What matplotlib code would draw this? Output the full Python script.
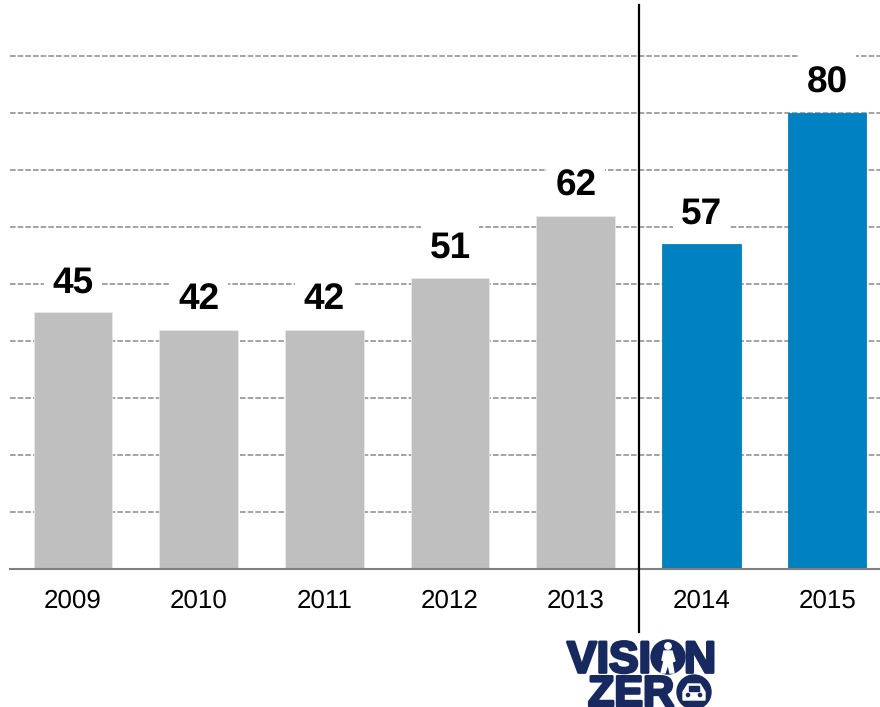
import matplotlib
matplotlib.use("Agg")
from matplotlib import pyplot as plt
from matplotlib import patheffects as pe
from matplotlib.patches import Circle, Polygon, Rectangle

plt.rcParams['font.family'] = ['Liberation Sans', 'DejaVu Sans']
plt.rcParams['text.hinting'] = 'no_hinting'
plt.rcParams['text.hinting_factor'] = 1

years = ['2009', '2010', '2011', '2012', '2013', '2014', '2015']
values = [45, 42, 42, 51, 62, 57, 80]
bar_colors = ['#bfbfbf'] * 5 + ['#0081c2'] * 2
bar_edges = ['#e8e8e8'] * 5 + ['#0081c2'] * 2
grid_levels = [10, 20, 30, 40, 50, 60, 70, 80, 90]

NAVY = '#17295e'

fig = plt.figure(figsize=(8.8, 7.07), dpi=100)
ax = fig.add_axes([10 / 880, 1 - 569 / 707, 870 / 880, 569 / 707])

# bars on top of the dashed guides
positions = range(len(years))
ax.bar(positions, values, width=0.625, color=bar_colors, edgecolor=bar_edges, linewidth=0.6, zorder=3)
ax.set_xlim(-0.5, 6.42)
ax.set_ylim(0, 99.8)

for level in grid_levels:
    ax.axhline(level, color='#8f8f8f', lw=1.15, linestyle=(0, (3.5, 1.3)), zorder=1)

# value labels sit on white blocks that knock the guides out
for x, v in zip(positions, values):
    ax.add_patch(Rectangle((x - 0.23, v + 0.5), 0.46, 10.3, facecolor='white', edgecolor='none', zorder=2))
    ax.annotate(str(v), (x, v), xytext=(0, 14.5), textcoords='offset points',
                ha='center', va='baseline', fontsize=26.5, fontweight='bold', color='black', zorder=4)

for side in ['top', 'left', 'right']:
    ax.spines[side].set_visible(False)
ax.spines['bottom'].set_color('#808080')
ax.spines['bottom'].set_linewidth(1.5)
ax.spines['bottom'].set_zorder(4)
ax.set_yticks([])
ax.set_xticks(list(positions))
ax.set_xticklabels(years, fontsize=19, color='black')
ax.tick_params(axis='x', length=0, pad=14.5)

# divider between the before and after years
ax.plot([4.5, 4.5], [-11, 98.9], color='black', lw=1.6, clip_on=False, zorder=5)

# logo, laid out in pixel coordinates
logo = fig.add_axes([0, 0, 1, 1], facecolor='none')
logo.set_xlim(0, 880)
logo.set_ylim(707, 0)
logo.axis('off')
heavy = [pe.withStroke(linewidth=2.0, foreground=NAVY)]
logo.text(567, 672.5, 'VISI', fontsize=32, fontweight='bold', color=NAVY, va='baseline', path_effects=heavy)
logo.text(684, 672.5, 'N', fontsize=32, fontweight='bold', color=NAVY, va='baseline', path_effects=heavy)
logo.text(588, 706, 'ZER', fontsize=31, fontweight='bold', color=NAVY, va='baseline', path_effects=heavy)

# walking figure inside the O of VISION
logo.add_patch(Circle((668, 657), 17, color=NAVY))
logo.add_patch(Circle((668, 646), 3.2, color='white'))
logo.add_patch(Polygon([(664, 651), (672, 651), (675, 661), (672, 662), (674, 673), (670, 673),
                        (668, 664), (665, 673), (661, 673), (664, 661), (662, 660)], color='white'))

# car inside the O of ZERO
logo.add_patch(Circle((694, 692), 17, color=NAVY))
logo.add_patch(Polygon([(683, 692), (688, 684), (700, 684), (705, 692), (705, 700), (683, 700)], color='white'))
logo.add_patch(Rectangle((689, 686), 10, 4.5, color=NAVY))
logo.add_patch(Circle((688, 695), 1.6, color=NAVY))
logo.add_patch(Circle((700, 695), 1.6, color=NAVY))

fig.savefig('out.png', dpi=100)
